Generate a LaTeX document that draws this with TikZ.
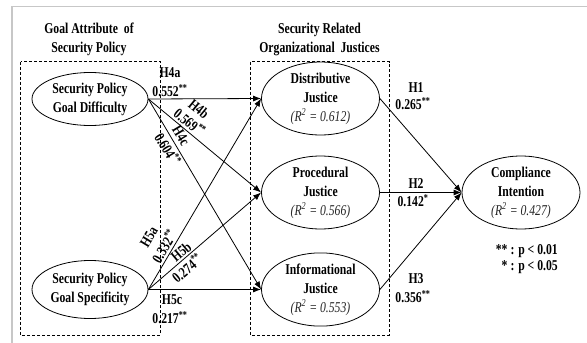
\documentclass[tikz,border=0pt]{standalone}
\usepackage{fontspec}
\setmainfont{Liberation Serif}[FakeStretch=0.78]
\usetikzlibrary{shapes.geometric,arrows.meta}
\begin{document}
\begin{tikzpicture}[x=1pt,y=-1pt,
  lbl/.style={font=\fontsize{15}{18}\selectfont\bfseries, inner sep=0pt},
  ttl/.style={font=\fontsize{15}{19}\selectfont\bfseries, inner sep=0pt, align=center},
  ell/.style={draw, ellipse, line width=0.8pt, inner sep=0pt, align=center, minimum width=118pt, font=\fontsize{15}{19}\selectfont\bfseries},
  arr/.style={line width=0.8pt, -{Latex[length=8pt,width=6pt]}},
  box/.style={draw, dash pattern=on 3pt off 2pt, line width=0.7pt}
  ]
\newcommand{\rsqline}[1]{{\mdseries\itshape\color{black!85}(R\textsuperscript{2} = #1)}}
\useasboundingbox (0,0) rectangle (587,343);
\fill[white] (0,0) rectangle (587,343);
\draw[black!22, line width=1.5pt] (12,343) -- (12,6.5) -- (587,6.5);
% dashed groups
\draw[box] (20.5,61.5) rectangle (160,335);
\draw[box] (250.5,61.5) rectangle (389,335);
% titles
\node[ttl] (t1) at (89,39.5) {Goal Attribute\ \ of\\Security Policy};
\node[ttl] (t2) at (319.5,39.5) {Security Related\\Organizational\ \ Justices};
% ellipses
\node[ell, minimum width=116pt, minimum height=53pt] (dif) at (90,99) {Security Policy\\Goal Difficulty};
\node[ell, minimum width=116pt, minimum height=58pt] (spe) at (90,289.5) {Security Policy\\Goal Specificity};
\node[ell, minimum height=58pt] (dis) at (320.5,98.5) {Distributive\\Justice\\\rsqline{0.612}};
\node[ell, minimum height=61pt] (pro) at (320.5,192.5) {Procedural\\Justice\\\rsqline{0.566}};
\node[ell, minimum height=58pt] (inf) at (320.5,289.5) {Informational\\Justice\\\rsqline{0.553}};
\node[ell, minimum height=62pt] (com) at (521,192.5) {Compliance\\Intention\\\rsqline{0.427}};
% arrows
\draw[arr] (dif.east) -- (dis.west);
\draw[arr] (dif.east) -- (pro.west);
\draw[arr] (dif.east) -- (inf.west);
\draw[arr] (spe.east) -- (dis.west);
\draw[arr] (spe.east) -- (pro.west);
\draw[arr] (spe.east) -- (inf.west);
\draw[arr] (dis.east) -- (com.west);
\draw[arr] (pro.east) -- (com.west);
\draw[arr] (inf.east) -- (com.west);
% path labels
\node[lbl] (h4a) at (170,73) {H4a};
\node[lbl] (v4a) at (170,91) {0.552\textsuperscript{**}};
\node[lbl, rotate=-39.5] (h4b) at (199,109) {H4b};
\node[lbl, rotate=-39.5] (v4b) at (190,122) {0.569\textsuperscript{**}};
\node[lbl, rotate=-59] (h4c) at (181,136) {H4c};
\node[lbl, rotate=-59] (v4c) at (168,149) {0.604\textsuperscript{**}};
\node[lbl, rotate=59] (h5a) at (149,237) {H5a};
\node[lbl, rotate=59] (v5a) at (164,246) {0.332\textsuperscript{**}};
\node[lbl, rotate=40] (h5b) at (181,252) {H5b};
\node[lbl, rotate=40] (v5b) at (187,268) {0.274\textsuperscript{**}};
\node[lbl] (h5c) at (172,300) {H5c};
\node[lbl] (v5c) at (170,318) {0.217\textsuperscript{**}};
\node[lbl] (h1) at (416,88) {H1};
\node[lbl] (v1) at (413,104) {0.265\textsuperscript{**}};
\node[lbl] (h2) at (416,184) {H2};
\node[lbl] (v2) at (413,201) {0.142\textsuperscript{*}};
\node[lbl] (h3) at (416,279) {H3};
\node[lbl] (v3) at (413,297) {0.356\textsuperscript{**}};
% legend
\node[lbl, anchor=east] (lg1) at (558,251) {** : p < 0.01};
\node[lbl, anchor=east] (lg2) at (558,267) {* : p < 0.05};
\end{tikzpicture}
\end{document}
